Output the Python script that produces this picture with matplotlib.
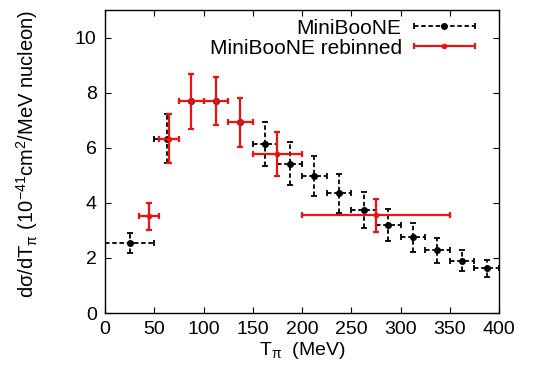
#Espectro de piones: MiniBooNE y MiniBooNE rebinned
import numpy as np
import matplotlib.pyplot as plt
from matplotlib.container import ErrorbarContainer
from matplotlib.legend_handler import HandlerErrorbar

plt.rcParams['font.family'] = ['Liberation Sans', 'DejaVu Sans']
plt.rcParams['mathtext.fontset'] = 'custom'
plt.rcParams['mathtext.rm'] = 'Liberation Sans'
plt.rcParams['mathtext.it'] = 'Liberation Sans'
plt.rcParams['font.size'] = 14

#Datos MiniBooNE (negro)
t_mb = np.array([25, 62.5, 87.5, 112.5, 137.5, 162.5, 187.5, 212.5, 237.5,
                 262.5, 287.5, 312.5, 337.5, 362.5, 387.5])
dt_mb = np.array([25, 12.5, 12.5, 12.5, 12.5, 12.5, 12.5, 12.5, 12.5,
                  12.5, 12.5, 12.5, 12.5, 12.5, 12.5])
y_mb = np.array([2.54, 6.33, 7.69, 7.70, 6.92, 6.12, 5.42, 4.98, 4.34,
                 3.75, 3.19, 2.75, 2.27, 1.90, 1.62])
dy_mb = np.array([0.37, 0.90, 1.00, 0.86, 0.88, 0.80, 0.77, 0.73, 0.71,
                  0.66, 0.59, 0.53, 0.45, 0.39, 0.32])

#Datos MiniBooNE rebinned (rojo)
t_rb = np.array([45, 65, 87.5, 112.5, 137.5, 175, 275])
dt_rb = np.array([10, 10.5, 12.5, 12.5, 12.5, 25, 75])
y_rb = np.array([3.51, 6.33, 7.69, 7.70, 6.92, 5.77, 3.54])
dy_rb = np.array([0.48, 0.88, 1.00, 0.86, 0.88, 0.80, 0.59])

fig = plt.figure(figsize=(5.35, 3.76), dpi=100)
ax = fig.add_axes([105/535, 1-313/376, 394/535, 303/376])

eb1 = ax.errorbar(t_mb, y_mb, xerr=dt_mb, yerr=dy_mb, fmt='o', color='black',
                  ms=4, elinewidth=1.3, capsize=2, capthick=1.3,
                  label='MiniBooNE', zorder=2)
for c in eb1[2]:
    c.set_linestyle((0, (2.5, 1.5)))

eb2 = ax.errorbar(t_rb, y_rb, xerr=dt_rb, yerr=dy_rb, fmt='o', color='#ee1111',
                  ms=3, elinewidth=1.6, capsize=2.5, capthick=1.6,
                  label='MiniBooNE rebinned', zorder=3)

ax.set_xlim(0, 400)
ax.set_ylim(0, 11)
ax.set_xticks(np.arange(0, 401, 50))
ax.set_yticks(np.arange(0, 11, 2))
ax.tick_params(direction='in', top=True, right=True, length=4, width=0.8, pad=6)
for s in ax.spines.values():
    s.set_linewidth(1.0)

ax.set_xlabel(r'T$_{\pi}$  (MeV)', labelpad=1)
ax.set_ylabel(r'd$\sigma$/dT$_{\pi}$ (10$^{-41}$cm$^2$/MeV nucleon)',
              labelpad=4, fontsize=14.5)
ax.yaxis.set_label_coords(-0.165, 0.525)

hm = {ErrorbarContainer: HandlerErrorbar(xerr_size=1.45, yerr_size=0)}
ax.legend(handler_map=hm, loc='upper right', bbox_to_anchor=(0.975, 1.02),
          frameon=False, markerfirst=False, handlelength=2.9, handletextpad=0.6,
          labelspacing=0.05, borderaxespad=0.3, fontsize=15)

plt.savefig('out.png')
